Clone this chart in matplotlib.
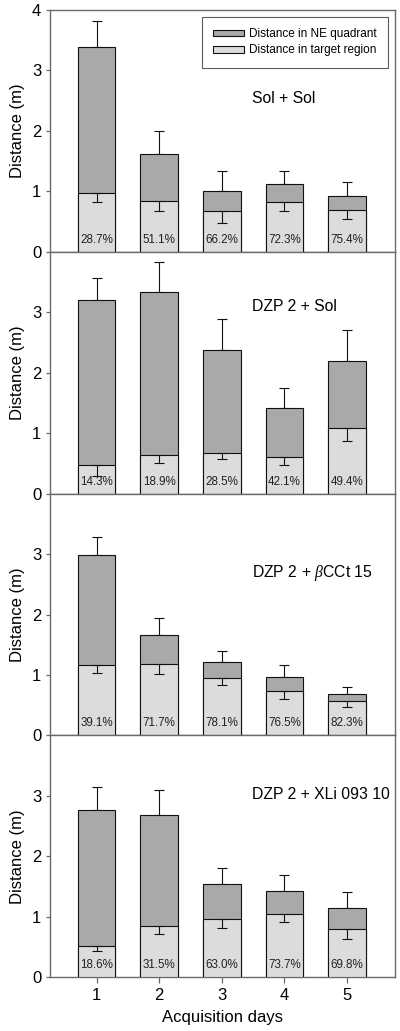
import matplotlib
matplotlib.use("Agg")
import matplotlib.pyplot as plt
from matplotlib.patches import Patch

plt.rcParams['font.family'] = ['Liberation Sans', 'DejaVu Sans']
plt.rcParams['mathtext.fontset'] = 'custom'
plt.rcParams['mathtext.it'] = 'Liberation Serif:italic'

days = [1, 2, 3, 4, 5]
panel_titles = ["Sol + Sol", "DZP 2 + Sol", r"DZP 2 + $\it{\beta}$CCt 15", "DZP 2 + XLi 093 10"]

# total distance in NE quadrant and its upper error
ne_total = [
    [3.38, 1.62, 1.01, 1.13, 0.92],
    [3.20, 3.34, 2.38, 1.41, 2.19],
    [2.98, 1.66, 1.22, 0.96, 0.69],
    [2.77, 2.68, 1.54, 1.43, 1.14],
]
ne_err = [
    [0.44, 0.38, 0.33, 0.21, 0.24],
    [0.37, 0.49, 0.51, 0.33, 0.51],
    [0.31, 0.28, 0.18, 0.21, 0.12],
    [0.37, 0.41, 0.27, 0.26, 0.27],
]
# distance in target region and its lower error
target = [
    [0.98, 0.835, 0.67, 0.82, 0.70],
    [0.47, 0.64, 0.68, 0.60, 1.08],
    [1.16, 1.19, 0.95, 0.74, 0.57],
    [0.52, 0.85, 0.97, 1.05, 0.80],
]
target_err = [
    [0.16, 0.165, 0.19, 0.14, 0.16],
    [0.17, 0.13, 0.11, 0.13, 0.21],
    [0.12, 0.18, 0.11, 0.14, 0.10],
    [0.09, 0.14, 0.15, 0.14, 0.17],
]
percent_labels = [
    ["28.7%", "51.1%", "66.2%", "72.3%", "75.4%"],
    ["14.3%", "18.9%", "28.5%", "42.1%", "49.4%"],
    ["39.1%", "71.7%", "78.1%", "76.5%", "82.3%"],
    ["18.6%", "31.5%", "63.0%", "73.7%", "69.8%"],
]
title_y = [2.53, 3.10, 2.69, 3.03]

dark = "#a9a9a9"
light = "#dcdcdc"
frame = "#6a6a6a"

W, H = 400, 1031
fig = plt.figure(figsize=(W / 100, H / 100), dpi=100)

left_px, right_px = 49.5, 395.0
top_px, bottom_px = 10.0, 977.3
ph = (bottom_px - top_px) / 4

for i in range(4):
    y_top = top_px + i * ph
    ax = fig.add_axes([left_px / W, (H - (y_top + ph)) / H,
                       (right_px - left_px) / W, ph / H])
    ax.bar(days, ne_total[i], width=0.6, color=dark, edgecolor="#111111", linewidth=0.8, zorder=2)
    ax.bar(days, target[i], width=0.6, color=light, edgecolor="#111111", linewidth=0.8, zorder=3)
    ax.errorbar(days, ne_total[i], yerr=[[0] * 5, ne_err[i]], fmt="none", ecolor="#111111",
                elinewidth=0.8, capsize=3.5, capthick=0.8, zorder=1)
    ax.errorbar(days, target[i], yerr=[target_err[i], [0] * 5], fmt="none", ecolor="#111111",
                elinewidth=0.8, capsize=3.5, capthick=0.8, zorder=4)
    for d, lab in zip(days, percent_labels[i]):
        ax.text(d, 0.2, lab, ha="center", va="center", fontsize=8.4, color="#222222", zorder=5)
    ax.text(3.48, title_y[i], panel_titles[i], ha="left", va="center", fontsize=11.3)

    ax.set_xlim(0.245, 5.77)
    ax.set_ylim(0, 4)
    ax.set_yticks([0, 1, 2, 3, 4] if i == 0 else [0, 1, 2, 3])
    ax.set_ylabel("Distance (m)", fontsize=12, labelpad=5)
    for s in ax.spines.values():
        s.set_color(frame)
        s.set_linewidth(1.0)
    ax.tick_params(axis="y", direction="out", length=3, width=0.9, color=frame, labelsize=12, pad=3)
    if i == 3:
        ax.set_xticks(days)
        ax.tick_params(axis="x", direction="out", length=4, width=0.9, color=frame, labelsize=12, pad=4)
        ax.set_xlabel("Acquisition days", fontsize=12, labelpad=5)
    else:
        ax.set_xticks([])
    if i == 0:
        handles = [Patch(facecolor=dark, edgecolor="#111111", linewidth=0.8, label="Distance in NE quadrant"),
                   Patch(facecolor=light, edgecolor="#111111", linewidth=0.8, label="Distance in target region")]
        leg = ax.legend(handles=handles, loc="upper right", fontsize=8.5, frameon=True, fancybox=False,
                        edgecolor="#333333", handlelength=2.6, handleheight=0.5, borderpad=0.95,
                        labelspacing=0.35, handletextpad=0.45, borderaxespad=0.6)
        leg.get_frame().set_linewidth(0.8)

fig.savefig("out.png", dpi=100)
